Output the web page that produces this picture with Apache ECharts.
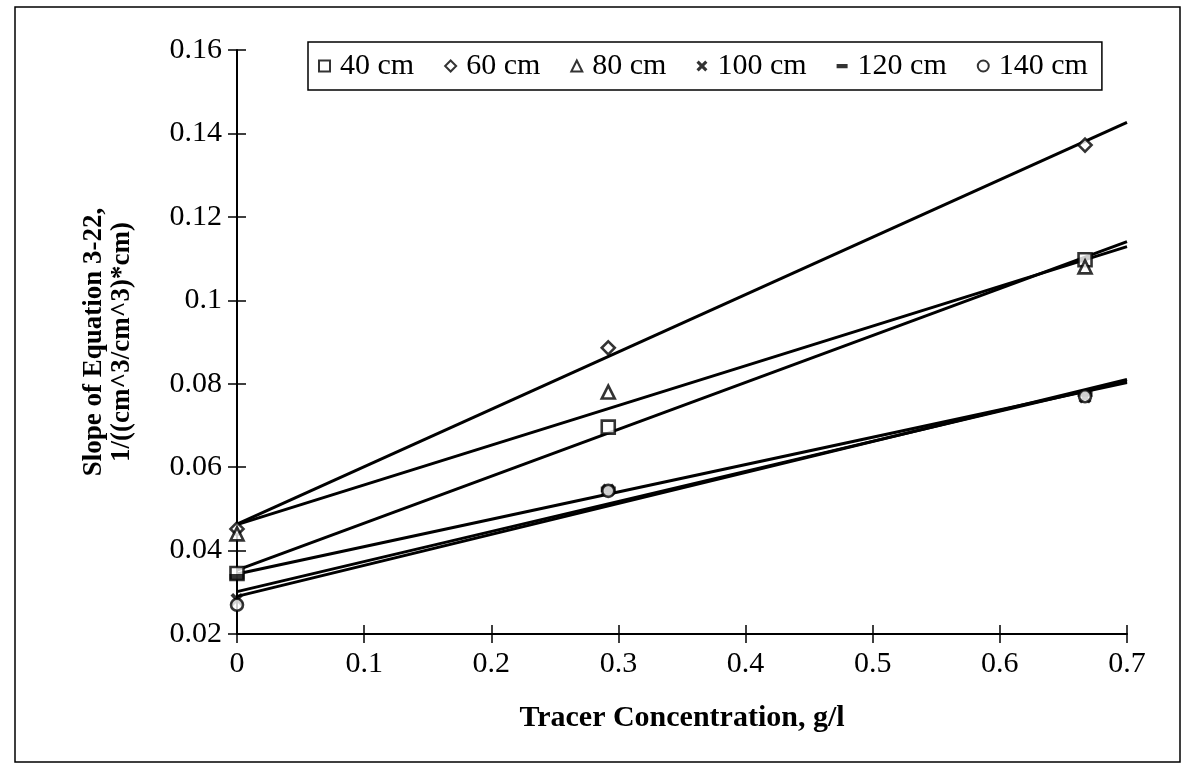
<!DOCTYPE html>
<html>
<head>
<meta charset="utf-8">
<script src="https://cdn.jsdelivr.net/npm/echarts@6/dist/echarts.min.js"></script>
<style>
html,body{margin:0;padding:0;background:#fff;}
#chart{width:1191px;height:777px;}
</style>
</head>
<body>
<div id="chart"></div>
<script>
// ---- data ----
const concentrations = [0, 0.292, 0.667];
const seriesNames = ['40 cm', '60 cm', '80 cm', '100 cm', '120 cm', '140 cm'];
const slope40 = [0.0345, 0.0696, 0.1097];
const slope60 = [0.0452, 0.0886, 0.1372];
const slope80 = [0.0440, 0.0780, 0.1080];
const slope100 = [0.0283, 0.0545, 0.0768];
const slope120 = [0.0337, 0.0547, 0.0776];
const slope140 = [0.0270, 0.0543, 0.0770];
const xTicks = [0, 0.1, 0.2, 0.3, 0.4, 0.5, 0.6, 0.7];
const yTicks = [0.02, 0.04, 0.06, 0.08, 0.1, 0.12, 0.14, 0.16];

const allSlopes = [slope40, slope60, slope80, slope100, slope120, slope140];
const FONT = "'Liberation Serif', 'DejaVu Serif', serif";
const xMin = xTicks[0], xMax = xTicks[xTicks.length - 1];

function fit(xs, ys) {
  const n = xs.length;
  const mx = xs.reduce((a, b) => a + b, 0) / n;
  const my = ys.reduce((a, b) => a + b, 0) / n;
  let sxy = 0, sxx = 0;
  for (let i = 0; i < n; i++) { sxy += (xs[i] - mx) * (ys[i] - my); sxx += (xs[i] - mx) ** 2; }
  const m = sxy / sxx;
  return { m, b: my - m * mx };
}

const crossPath = 'path://M2,0 L5,3 L8,0 L10,2 L7,5 L10,8 L8,10 L5,7 L2,10 L0,8 L3,5 L0,2 Z';
const dashPath = 'path://M0,0L0.05,0L0,0.05Z M0,3.8L12,3.8L12,8.4L0,8.4Z M12,12L11.95,12L12,11.95Z';
const symbols = [
  { symbol: 'rect', size: 13, filled: false },
  { symbol: 'diamond', size: 13, filled: false },
  { symbol: 'triangle', size: 13, filled: false },
  { symbol: crossPath, size: 13, filled: true },
  { symbol: dashPath, size: 15, filled: true },
  { symbol: 'circle', size: 12, filled: false }
];

const series = [];
allSlopes.forEach((ys, i) => {
  const f = fit(concentrations, ys);
  series.push({
    type: 'line',
    data: [[xMin, f.b + f.m * xMin], [xMax, f.b + f.m * xMax]],
    showSymbol: false,
    symbol: 'none',
    lineStyle: { color: '#000', width: 3 },
    silent: true,
    z: 3
  });
});
allSlopes.forEach((ys, i) => {
  const s = symbols[i];
  series.push({
    type: 'scatter',
    name: seriesNames[i],
    data: concentrations.map((x, j) => [x, ys[j]]),
    symbol: s.symbol,
    symbolSize: s.size,
    clip: false,
    itemStyle: s.filled ? { color: '#000', borderWidth: 0 }
                        : { color: '#fff', borderColor: '#000', borderWidth: 2.6 },
    z: 5
  });
});

const chart = echarts.init(document.getElementById('chart'), null, { renderer: 'canvas' });
const axisCommon = {
  type: 'value',
  splitLine: { show: false },
  axisLine: { show: true, onZero: false, lineStyle: { color: '#000', width: 2 } }
};
chart.setOption({
  animation: false,
  backgroundColor: '#fff',
  graphic: [{
    type: 'rect',
    shape: { x: 15, y: 7, width: 1165, height: 755 },
    style: { fill: 'none', stroke: '#000', lineWidth: 1.5 },
    silent: true
  }],
  grid: { left: 237, right: 64, top: 50, bottom: 143 },
  legend: {
    left: 308, top: 42,
    data: seriesNames,
    orient: 'horizontal',
    itemWidth: 11, itemHeight: 11, itemGap: 30,
    padding: [9, 14, 9, 10],
    borderColor: '#000', borderWidth: 1.5,
    textStyle: { fontFamily: FONT, fontSize: 30, color: '#000', padding: [0, 0, 0, 5] }
  },
  xAxis: [
    Object.assign({}, axisCommon, {
      min: xMin, max: xMax, interval: 0.1,
      axisTick: { show: true, length: 9, lineStyle: { color: '#000', width: 1.5 } },
      axisLabel: { color: '#000', fontFamily: FONT, fontSize: 30, margin: 15 },
      name: 'Tracer Concentration, g/l',
      nameLocation: 'middle', nameGap: 69,
      nameTextStyle: { fontFamily: FONT, fontSize: 30, fontWeight: 'bold', color: '#000' }
    }),
    Object.assign({}, axisCommon, {
      min: xMin, max: xMax, interval: 0.1, position: 'bottom',
      axisLine: { show: false },
      axisTick: { show: true, inside: true, length: 9, lineStyle: { color: '#000', width: 1.5 } },
      axisLabel: { show: false }
    })
  ],
  yAxis: [
    Object.assign({}, axisCommon, {
      min: yTicks[0], max: yTicks[yTicks.length - 1], interval: 0.02,
      axisTick: { show: true, length: 9, lineStyle: { color: '#000', width: 1.5 } },
      axisLabel: { color: '#000', fontFamily: FONT, fontSize: 30, margin: 15 },
      name: 'Slope of Equation 3-22,\n1/((cm^3/cm^3)*cm)',
      nameLocation: 'middle', nameGap: 101,
      nameTextStyle: { fontFamily: FONT, fontSize: 27, fontWeight: 'bold', color: '#000', lineHeight: 28 }
    }),
    Object.assign({}, axisCommon, {
      min: yTicks[0], max: yTicks[yTicks.length - 1], interval: 0.02, position: 'left',
      axisLine: { show: false },
      axisTick: { show: true, inside: true, length: 9, lineStyle: { color: '#000', width: 1.5 } },
      axisLabel: { show: false }
    })
  ],
  series: series
});
</script>
</body>
</html>
